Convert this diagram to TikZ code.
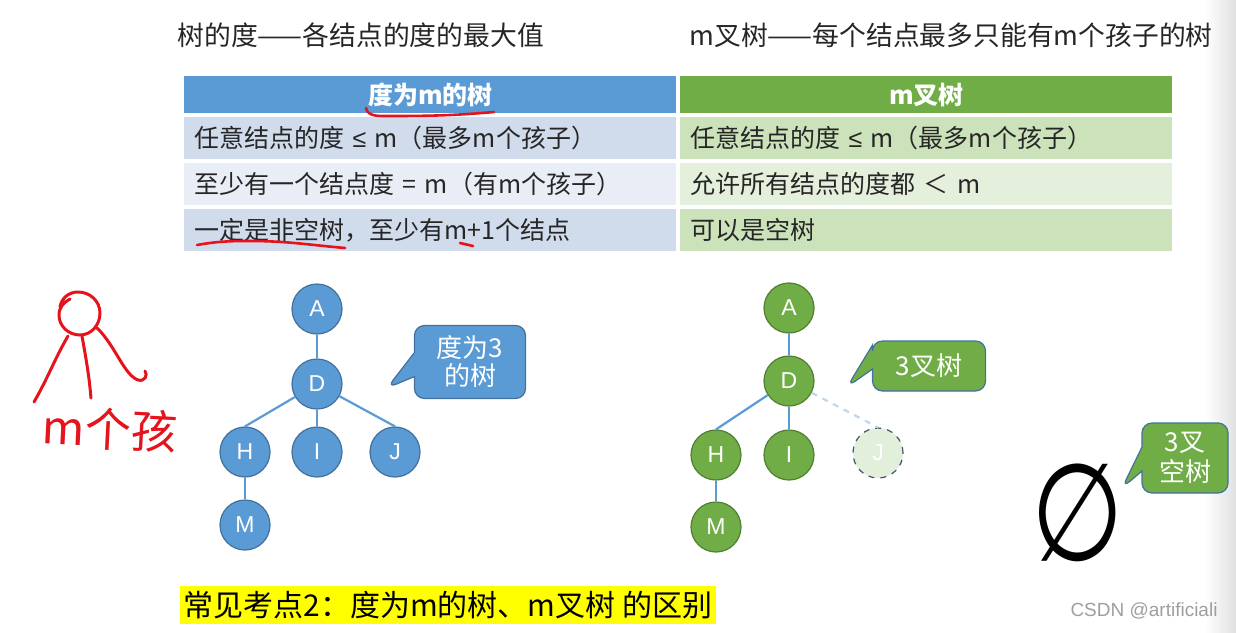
\documentclass[tikz,border=0pt]{standalone}
\usepackage{fontspec}
\setmainfont{Noto Sans CJK SC}
\newfontfamily\symfont{DejaVu Sans}
\newfontfamily\latinfont{Liberation Sans}
\usetikzlibrary{positioning, shapes.callouts, calc}

\definecolor{hdrblue}{HTML}{5B9BD5}
\definecolor{bluedark}{HTML}{41719C}
\definecolor{bandblueA}{HTML}{D0DBEC}
\definecolor{bandblueB}{HTML}{E9EDF5}
\definecolor{hdrgreen}{HTML}{70AD47}
\definecolor{greendark}{HTML}{507E32}
\definecolor{bandgreenA}{HTML}{CBE2BB}
\definecolor{bandgreenB}{HTML}{E4EFDC}
\definecolor{ghostgreen}{HTML}{E2EFDA}
\definecolor{ghostedge}{HTML}{BDD7EE}
\definecolor{ghostline}{HTML}{44546A}
\definecolor{txtgray}{HTML}{262626}
\definecolor{inkred}{HTML}{E5131B}
\definecolor{hilite}{HTML}{FFFF00}

\newcommand\ttlsize{\fontsize{13.4pt}{15pt}\selectfont}
\newcommand\hdrsize{\fontsize{12.5pt}{15pt}\selectfont}
\newcommand\cellsize{\fontsize{12.5pt}{15pt}\selectfont}
\newcommand\callsize{\fontsize{13pt}{14pt}\selectfont}
\newcommand\keysize{\fontsize{15pt}{17pt}\selectfont}
\newcommand\lesym{{\latinfont ≤}}

\begin{document}
\begin{tikzpicture}[x=0.5pt, y=-0.5pt,
  hdr/.style={minimum width=246pt, minimum height=18.5pt, inner sep=0pt, text=white, font=\hdrsize},
  cell/.style={text width=236pt, inner xsep=5pt, inner ysep=0pt, minimum height=21pt, align=left, font=\cellsize, text=txtgray},
  bnode/.style={circle, minimum size=25pt, inner sep=0pt, draw=bluedark, fill=hdrblue, line width=0.6pt, text=white, font=\latinfont\fontsize{11.5pt}{12pt}\selectfont},
  gnode/.style={bnode, draw=greendark, fill=hdrgreen},
  tedge/.style={draw=hdrblue, line width=1.1pt},
  callbox/.style={rectangle callout, rounded corners=5pt, callout pointer width=12pt, line width=0.6pt, text=white, font=\callsize, align=center, inner sep=0pt},
  redink/.style={draw=inkred, line width=1.5pt, line cap=round, line join=round}]

  \useasboundingbox (0,0) rectangle (1236,632);
  % faint shade along the right edge
  \fill[left color=white, right color=black!12] (1205,0) rectangle (1236,632);

  % Two headings
  \node[anchor=west, inner sep=0pt, font=\ttlsize, text=txtgray] (ttlL) at (177,35) {树的度——各结点的度的最大值};
  \node[anchor=west, inner sep=0pt, font=\ttlsize, text=txtgray] (ttlR) at (689,35) {m叉树——每个结点最多只能有m个孩子的树};

  % Comparison table
  \node[hdr, fill=hdrblue, anchor=north west] (hL) at (184,76) {\textbf{度为m的树}};
  \node[hdr, fill=hdrgreen, anchor=north west] (hR) at (680,76) {\textbf{m叉树}};

  \node[cell, fill=bandblueA, below=1.5pt of hL] (l1) {任意结点的度 \lesym\ m（最多m个孩子）};
  \node[cell, fill=bandblueB, below=1.5pt of l1] (l2) {至少有一个结点度 = m（有m个孩子）};
  \node[cell, fill=bandblueA, below=1.5pt of l2] (l3) {一定是非空树，至少有m+1个结点};

  \node[cell, fill=bandgreenA, below=1.5pt of hR] (r1) {任意结点的度 \lesym\ m（最多m个孩子）};
  \node[cell, fill=bandgreenB, below=1.5pt of r1] (r2) {允许所有结点的度都 ＜ m};
  \node[cell, fill=bandgreenA, below=1.5pt of r2] (r3) {可以是空树};

  % Tree of degree 3
  \node[bnode] (bA) at (317,309) {A};
  \node[bnode] (bD) at (317,384) {D};
  \node[bnode] (bH) at (245,452) {H};
  \node[bnode] (bI) at (317,452) {I};
  \node[bnode] (bJ) at (395,452) {J};
  \node[bnode] (bM) at (245,525) {M};
  \draw[tedge] (bA) -- (bD);
  \draw[tedge] (bD) -- (bH.north);
  \draw[tedge] (bD) -- (bI);
  \draw[tedge] (bD) -- (bJ.north);
  \draw[tedge] (bH) -- (bM);
  \node[callbox, fill=hdrblue, draw=bluedark, minimum width=55.5pt, minimum height=36.5pt,
        callout absolute pointer={(387,388)}] (cDeg) at (470,362) {度为3\\的树};

  % Ternary tree
  \node[gnode] (gA) at (789,308) {A};
  \node[gnode] (gD) at (789,381) {D};
  \node[gnode] (gH) at (716,455) {H};
  \node[gnode] (gI) at (789,455) {I};
  \node[gnode, fill=ghostgreen, draw=ghostline, dashed] (gJ) at (878,453) {J};
  \node[gnode] (gM) at (716,527) {M};
  \draw[tedge] (gA) -- (gD);
  \draw[tedge] (gD) -- (gH.north);
  \draw[tedge] (gD) -- (gI);
  \draw[tedge, draw=ghostedge, dashed] (gD) -- (gJ.north);
  \draw[tedge] (gH) -- (gM);
  \node[callbox, fill=hdrgreen, draw=bluedark, minimum width=56.5pt, minimum height=25pt,
        callout absolute pointer={(847,387)}] (cTer) at (929,366) {3叉树};

  % Empty ternary tree
  \node[inner sep=0pt, font=\symfont\fontsize{68pt}{70pt}\selectfont, xscale=0.78] (empty) at (1078,513) {∅};
  \node[callbox, fill=hdrgreen, draw=bluedark, minimum width=43pt, minimum height=35pt,
        callout absolute pointer={(1122,488)}] (cNil) at (1185,458) {3叉\\[1pt]空树};

  % Key point
  \node[fill=hilite, inner xsep=2pt, inner ysep=2.5pt, font=\keysize, text=black] (key) at (448,605) {常见考点2：度为m的树、m叉树 的区别};
  \node[text=black!38, inner sep=0pt, font=\latinfont\fontsize{9.5pt}{11pt}\selectfont] (mark) at (1144,611) {CSDN @artificiali};

  % Handwritten notes in red
  \draw[redink] (60,307) to[out=80,in=180] (78,292) to[out=0,in=90] (100,313)
        to[out=270,in=0] (80,335) to[out=180,in=270] (59,315) to[out=90,in=210] (70,299);
  \draw[redink] (68,336) to[out=240,in=60] (34,402);
  \draw[redink] (82,336) to[out=280,in=95] (91,398);
  \draw[redink] (97,328) .. controls (115,345) and (124,375) .. (138,380) .. controls (145,382) and (148,375) .. (145,371);
  \node[text=inkred, inner sep=0pt, font=\fontsize{23pt}{24pt}\selectfont, rotate=-3] (kids) at (110,429) {m个孩};
  \draw[redink, line width=1.3pt] (366,108) to[out=-80,in=180] (385,116) to[out=0,in=185] (494,112);
  \draw[redink, line width=1.3pt] (197,245) to[out=10,in=180] (250,241) to[out=0,in=175] (345,248);
  \draw[redink, line width=1.3pt] (460,243) -- (473,246);

\end{tikzpicture}
\end{document}
